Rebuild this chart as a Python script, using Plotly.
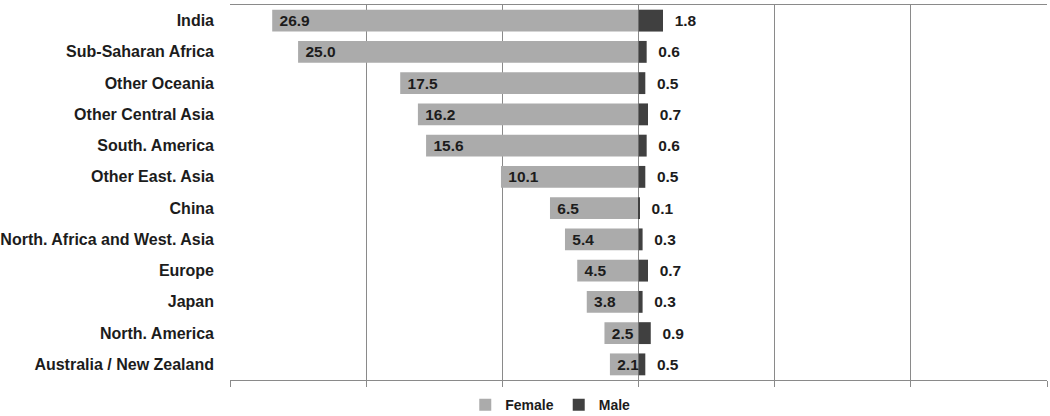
import plotly.graph_objects as go

regions = [
    "India", "Sub-Saharan Africa", "Other Oceania", "Other Central Asia",
    "South. America", "Other East. Asia", "China", "North. Africa and West. Asia",
    "Europe", "Japan", "North. America", "Australia / New Zealand",
]
female = [26.9, 25.0, 17.5, 16.2, 15.6, 10.1, 6.5, 5.4, 4.5, 3.8, 2.5, 2.1]
male = [1.8, 0.6, 0.5, 0.7, 0.6, 0.5, 0.1, 0.3, 0.7, 0.3, 0.9, 0.5]

FONT = "Liberation Sans, Arial, sans-serif"
GRID = "#8a8a8a"
INK = "#1c1c1c"

fig = go.Figure()

fig.add_trace(go.Bar(
    y=regions, x=[-v for v in female], orientation="h", name="Female",
    marker=dict(color="#ababab", line=dict(width=0)),
    text=[f"\u00a0{v:.1f}" for v in female], textposition="inside",
    insidetextanchor="end", constraintext="none",
    textfont=dict(family=FONT, size=15.5, color=INK, weight="bold"),
    width=0.7,
))
fig.add_trace(go.Bar(
    y=regions, x=male, orientation="h", name="Male",
    marker=dict(color="#404040", line=dict(width=0)),
    text=[f"\u00a0\u00a0{v:.1f}" for v in male], textposition="outside",
    constraintext="none", cliponaxis=False,
    textfont=dict(family=FONT, size=15.5, color=INK, weight="bold"),
    width=0.7,
))

fig.update_layout(
    width=1050, height=416,
    margin=dict(l=230, r=3, t=5, b=36),
    paper_bgcolor="white", plot_bgcolor="white",
    barmode="overlay",
    font=dict(family=FONT, size=14, color=INK, weight="bold"),
    showlegend=True,
    legend=dict(
        orientation="h", x=0.392, xanchor="center",
        yref="container", y=0.026, yanchor="middle",
        font=dict(family=FONT, size=14, color=INK, weight="bold"),
        itemwidth=30, traceorder="normal",
    ),
    xaxis=dict(
        range=[-30, 30], dtick=10, showticklabels=False,
        showgrid=True, gridcolor=GRID, gridwidth=1,
        zeroline=True, zerolinecolor=GRID, zerolinewidth=1,
        showline=True, linecolor=GRID, linewidth=1, mirror=True,
        ticks="outside", ticklen=6, tickcolor=GRID, fixedrange=True,
        automargin=False,
    ),
    yaxis=dict(
        autorange="reversed", showgrid=False, showline=False,
        ticks="", ticklabelstandoff=15, automargin=False,
        tickfont=dict(family=FONT, size=16, color=INK, weight="bold"),
    ),
)

# page has a default 8px body margin; drop it so the chart fills the window
fig.write_html(
    "out.html",
    config={"displayModeBar": False},
    post_script="document.body.style.margin='0';",
)
